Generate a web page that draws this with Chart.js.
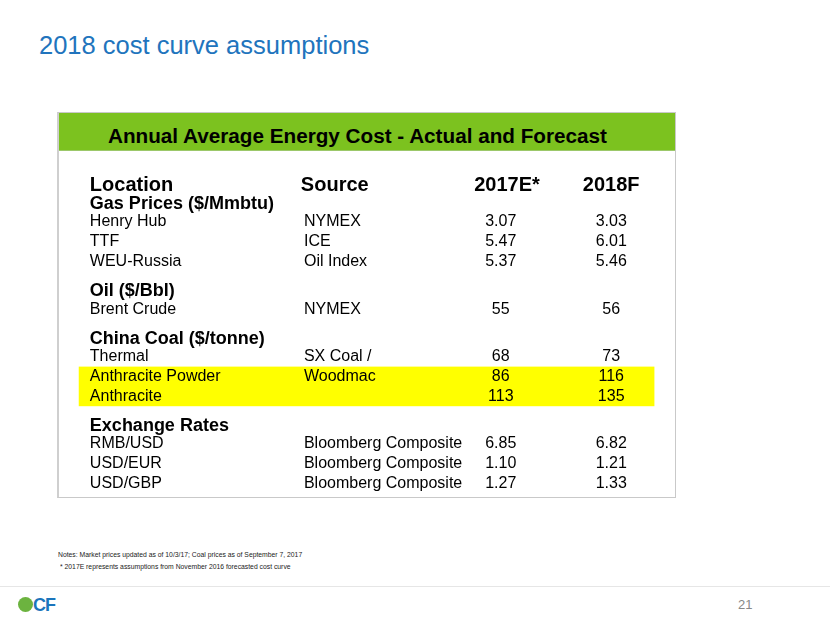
<!DOCTYPE html>
<html>
<head>
<meta charset="utf-8">
<script src="https://cdn.jsdelivr.net/npm/chart.js@4"></script>
<style>
  body { margin: 0; background: #fff; font-family: "Liberation Sans", Arial, sans-serif; }
  #slide { position: relative; width: 830px; height: 623px; overflow: hidden; }
  #title { position: absolute; left: 39px; top: 31px; font-size: 25.5px; color: #2174bd; }
  #box { position: absolute; left: 57px; top: 112px; width: 616px; height: 384px; border: 1px solid #c9c9c9; border-left: 2px solid #cfcfcf; }
  #band { height: 37px; background: #7cc21f; border-bottom: 1px solid #9cc86a; }
  #band span { position: absolute; left: 49px; top: 11px; font-weight: bold; font-size: 20.7px; color: #000; }
  #chartWrap { position: absolute; left: 0; top: 38px; width: 617px; height: 347px; }
  .note { position: absolute; font-family: "Liberation Sans Narrow", "Arial Narrow", sans-serif; font-size: 8px; color: #222;
          transform: scaleX(0.85); transform-origin: left center; white-space: nowrap; }
  #rule { position: absolute; left: 0; top: 586px; width: 830px; height: 1px; background: #e6e6e6; }
  #logo { position: absolute; left: 18px; top: 596px; }
  #logo .dot { position: absolute; left: 0; top: 1px; width: 15px; height: 15px; border-radius: 50%; background: #6cb33f; }
  #logo .cf { position: absolute; left: 15px; top: -1px; font-weight: bold; font-size: 18px; color: #1b75bc; letter-spacing: -1px; }
  #page { position: absolute; left: 738px; top: 597px; font-size: 13px; color: #888; }
</style>
</head>
<body>
<div id="slide">
  <div id="title">2018 cost curve assumptions</div>
  <div id="box">
    <div id="band"><span>Annual Average Energy Cost - Actual and Forecast</span></div>
    <div id="chartWrap"><canvas id="table" width="617" height="347"></canvas></div>
  </div>
  <div class="note" style="left:58px; top:550px;">Notes: Market prices updated as of 10/3/17; Coal prices as of September 7, 2017</div>
  <div class="note" style="left:60px; top:562px;">* 2017E represents assumptions from November 2016 forecasted cost curve</div>
  <div id="rule"></div>
  <div id="logo"><div class="dot"></div><div class="cf">CF</div></div>
  <div id="page">21</div>
</div>
<script>
// table content
const headers = ["Location", "Source", "2017E*", "2018F"];
const groups = ["Gas Prices ($/Mmbtu)", "Oil ($/Bbl)", "China Coal ($/tonne)", "Exchange Rates"];
const groupDecimals = [2, 0, 0, 2];
const categories = ["Henry Hub", "TTF", "WEU-Russia", "Brent Crude", "Thermal", "Anthracite Powder", "Anthracite", "RMB/USD", "USD/EUR", "USD/GBP"];
const groupOf = [0, 0, 0, 1, 2, 2, 2, 3, 3, 3];
const sources = ["NYMEX", "ICE", "Oil Index", "NYMEX", "SX Coal /", "Woodmac", "", "Bloomberg Composite", "Bloomberg Composite", "Bloomberg Composite"];
const values2017 = [3.07, 5.47, 5.37, 55, 68, 86, 113, 6.85, 1.10, 1.27];
const values2018 = [3.03, 6.01, 5.46, 56, 73, 116, 135, 6.82, 1.21, 1.33];
const highlighted = ["Anthracite Powder", "Anthracite"];

// column positions in % of the panel width
const COL = { label: 5.0, source: 39.7, h2017: 72.6, v2017: 71.6, v2018: 89.5 };

// row positions (row units, 0 = header row)
const groupY = [];
const rowY = [];
let y = 0, prev = "head";
categories.forEach((c, i) => {
  if (i === 0 || groupOf[i] !== groupOf[i - 1]) {
    y += prev === "head" ? 0.96 : 1.5;
    groupY.push(y);
    y += 0.91;
  } else {
    y += 1.01;
  }
  rowY.push(y);
  prev = "data";
});

const tablePlugin = {
  id: "tableText",
  beforeDatasetsDraw(chart) {
    const { ctx, scales: { x, y: ys } } = chart;
    const rows = highlighted.map(h => rowY[categories.indexOf(h)]);
    const top = ys.getPixelForValue(Math.min(...rows) - 0.5);
    const bot = ys.getPixelForValue(Math.max(...rows) + 0.5);
    const left = x.getPixelForValue(3.2), right = x.getPixelForValue(96.5);
    ctx.save();
    ctx.fillStyle = "#ffff00";
    ctx.fillRect(left, top, right - left, bot - top);
    ctx.restore();
  },
  afterDatasetsDraw(chart) {
    const { ctx, scales: { x, y: ys } } = chart;
    ctx.save();
    ctx.fillStyle = "#000";
    ctx.textBaseline = "middle";
    const y0 = ys.getPixelForValue(0);
    ctx.font = "bold 20px 'Liberation Sans', Arial, sans-serif";
    ctx.textAlign = "left";
    ctx.fillText(headers[0], x.getPixelForValue(COL.label), y0);
    ctx.fillText(headers[1], x.getPixelForValue(COL.source - 0.5), y0);
    ctx.textAlign = "center";
    ctx.fillText(headers[2], x.getPixelForValue(COL.h2017), y0);
    ctx.fillText(headers[3], x.getPixelForValue(COL.v2018), y0);

    ctx.textAlign = "left";
    ctx.font = "bold 18px 'Liberation Sans', Arial, sans-serif";
    groups.forEach((g, i) => ctx.fillText(g, x.getPixelForValue(COL.label), ys.getPixelForValue(groupY[i])));

    ctx.font = "16px 'Liberation Sans', Arial, sans-serif";
    categories.forEach((c, i) => {
      const py = ys.getPixelForValue(rowY[i]);
      ctx.fillText(c, x.getPixelForValue(COL.label), py);
      ctx.fillText(sources[i], x.getPixelForValue(COL.source), py);
    });

    ctx.textAlign = "center";
    chart.data.datasets.forEach((ds, d) => {
      const meta = chart.getDatasetMeta(d);
      meta.data.forEach((pt, i) => {
        ctx.fillText(ds.raw[i].toFixed(groupDecimals[groupOf[i]]), pt.x, pt.y);
      });
    });
    ctx.restore();
  }
};

new Chart(document.getElementById("table"), {
  type: "scatter",
  data: {
    datasets: [
      { label: headers[2], raw: values2017, data: values2017.map((v, i) => ({ x: COL.v2017, y: rowY[i] })), pointRadius: 0 },
      { label: headers[3], raw: values2018, data: values2018.map((v, i) => ({ x: COL.v2018, y: rowY[i] })), pointRadius: 0 }
    ]
  },
  options: {
    responsive: false,
    animation: false,
    devicePixelRatio: 1,
    layout: { padding: 0 },
    plugins: { legend: { display: false }, tooltip: { enabled: false } },
    scales: {
      x: { type: "linear", min: 0, max: 100, display: false },
      y: { type: "linear", min: -1.726, max: 15.89, reverse: true, display: false }
    }
  },
  plugins: [tablePlugin]
});
</script>
</body>
</html>
